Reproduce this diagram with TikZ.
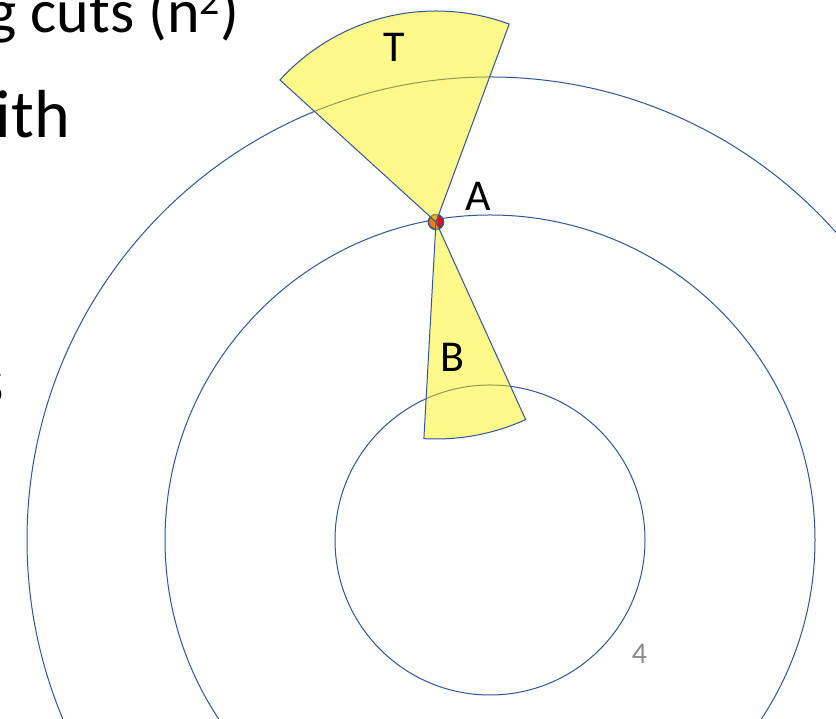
\documentclass[tikz,border=0pt]{standalone}
\usepackage{fontspec}
\usetikzlibrary{calc}
\setmainfont{Carlito}
\definecolor{lineblue}{HTML}{2F5597}
\definecolor{pagegray}{HTML}{8C8C8C}
\definecolor{dotorange}{HTML}{FF7A00}
\begin{document}
\begin{tikzpicture}[x=1pt,y=1pt,
  ring/.style={draw=lineblue,line width=1pt},
  wedge/.style={draw=lineblue,line width=1pt,fill=yellow,fill opacity=0.45,draw opacity=1},
  lbl/.style={font=\fontsize{44}{44}\selectfont,inner sep=0pt},
  slide/.style={font=\fontsize{62}{62}\selectfont,inner sep=0pt}]
\useasboundingbox (0,0) rectangle (836,719);
\clip (0,0) rectangle (836,719);
\fill[white] (0,0) rectangle (836,719);
\coordinate (O) at (490,179);
\coordinate (A) at (436,497);
% rings
\draw[ring] (O) circle (155);
\draw[ring] (O) circle (325);
\draw[ring] (O) circle (463);
% point A
\begin{scope}
  \clip (A) circle (7.5);
  \fill[dotorange] (A) circle (7.5);
  \fill[red] ($(A)+(1,8)$) -- ($(A)+(2,-8)$) -- ($(A)+(9,-8)$) -- ($(A)+(9,8)$) -- cycle;
\end{scope}
\draw[lineblue,line width=1.6pt] (A) circle (7.5);
% wedges
\draw[wedge] (A) -- ++(137.7:211) arc[start angle=137.7,end angle=69.7,radius=211] -- cycle;
\draw[wedge] (A) -- ++(-93.2:217) arc[start angle=-93.2,end angle=-65.6,radius=217] -- cycle;
% labels
\node[lbl] (T) at (394,672) {T};
\node[lbl] (Alab) at (478,523) {A};
\node[lbl] (B) at (452,361.5) {B};
\node[font=\fontsize{30}{30}\selectfont,text=pagegray,inner sep=0pt] (pg) at (639.5,65) {4};
% slide text fragments
\node[slide,anchor=base east] (t1) at (239,686) {g cuts (n\raisebox{0.3em}{\fontsize{40}{40}\selectfont 2})};
\node[font=\fontsize{68}{68}\selectfont,inner sep=0pt,anchor=base east] (t2) at (70,581) {ith};
\node[font=\fontsize{68}{68}\selectfont,inner sep=0pt,anchor=base east] (t3) at (4,314) {s};
\end{tikzpicture}
\end{document}
